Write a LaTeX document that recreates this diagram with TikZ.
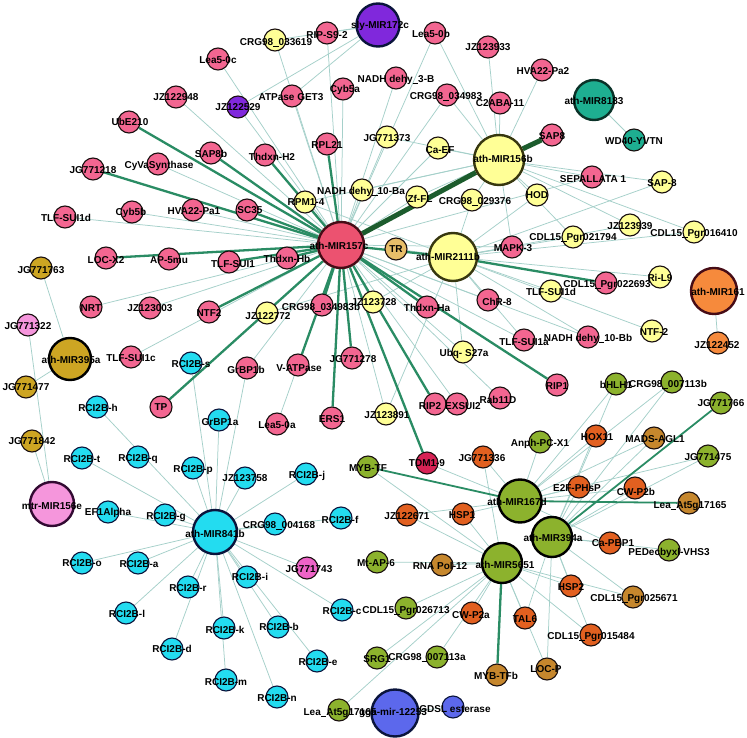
\documentclass[tikz,border=0pt]{standalone}
\usepackage{fontspec}
\setmainfont{Liberation Sans}
\definecolor{cpink}{RGB}{243,102,145}
\definecolor{cred}{RGB}{236,82,112}
\definecolor{cdred}{RGB}{70,12,22}
\definecolor{cyel}{RGB}{255,255,150}
\definecolor{cdyel}{RGB}{55,55,15}
\definecolor{cpurp}{RGB}{128,40,220}
\definecolor{cteal}{RGB}{30,175,145}
\definecolor{cdteal}{RGB}{10,50,40}
\definecolor{corng}{RGB}{246,138,60}
\definecolor{cgold}{RGB}{205,165,35}
\definecolor{clpink}{RGB}{245,150,220}
\definecolor{cdpurp}{RGB}{50,10,50}
\definecolor{cmag}{RGB}{238,100,200}
\definecolor{ccyan}{RGB}{35,220,240}
\definecolor{cdblue}{RGB}{10,20,60}
\definecolor{colive}{RGB}{140,178,45}
\definecolor{cored}{RGB}{226,96,32}
\definecolor{ctan}{RGB}{198,135,45}
\definecolor{ccrim}{RGB}{215,35,85}
\definecolor{ctr}{RGB}{232,190,105}
\definecolor{cblue}{RGB}{92,104,236}
\definecolor{ethin}{RGB}{165,208,202}
\definecolor{ethick}{RGB}{42,140,100}
\definecolor{edark}{RGB}{28,92,45}
\pgfdeclarelayer{edges}
\pgfdeclarelayer{labels}
\pgfsetlayers{edges,main,labels}
\newcommand\us{\rule[-1.6pt]{5.5pt}{0.95pt}}
\tikzset{
  sn/.style={circle, draw={rgb,255:red,25;green,15;blue,15}, line width=1.1pt, minimum size=22pt, inner sep=0pt},
  hub/.style={circle, line width=2.4pt, inner sep=0pt},
  pk/.style={sn, fill=cpink},
  yl/.style={sn, fill=cyel},
  pu/.style={sn, fill=cpurp},
  te/.style={sn, fill=cteal},
  og/.style={sn, fill=corng},
  gd/.style={sn, fill=cgold},
  lp/.style={sn, fill=clpink},
  mg/.style={sn, fill=cmag},
  cy/.style={sn, fill=ccyan, draw=cdblue},
  ol/.style={sn, fill=colive},
  orr/.style={sn, fill=cored},
  tn/.style={sn, fill=ctan},
  cr/.style={sn, fill=ccrim},
  trs/.style={sn, fill=ctr},
  bl/.style={sn, fill=cblue, draw=cdblue},
  lbl/.style={font=\bfseries\fontsize{10}{10}\selectfont, inner sep=0pt, text=black},
  ethinline/.style={draw=ethin, line width=0.75pt},
  ethickline/.style={draw=ethick, line width=2.3pt},
  emedline/.style={draw=ethick, line width=1.8pt},
  edarkline/.style={draw=edark, line width=5pt},
}
\newcommand\nd[7]{\node[#2] (#1) at (#3,#4) {};
  \begin{pgfonlayer}{labels}\node[lbl] (#1l) at (#6,#7) {#5};\end{pgfonlayer}}
\newcommand\ed[3]{\begin{pgfonlayer}{edges}\foreach \tgt in {#3} {\draw[#1] (#2) -- (\tgt);}\end{pgfonlayer}}
\begin{document}
\begin{tikzpicture}[x=1pt,y=-1pt]
\useasboundingbox (0,0) rectangle (747,738);
\begin{pgfonlayer}{edges}\fill[white] (0,0) rectangle (747,738);\end{pgfonlayer}
% hubs
\nd{m157c}{hub,fill=cred,draw=cdred,minimum size=46pt}{341}{245}{ath-MIR157c}{339}{246}
\nd{m156b}{hub,fill=cyel,draw=cdyel,minimum size=50pt}{499}{160}{ath-MIR156b}{503}{159}
\nd{m2111b}{hub,fill=cyel,draw=cdyel,minimum size=48pt}{453}{257}{ath-MIR2111b}{448}{257}
\nd{m172c}{hub,fill=cpurp,draw=cdblue,minimum size=43pt}{378}{25}{sly-MIR172c}{380}{26}
\nd{m8183}{hub,fill=cteal,draw=cdteal,minimum size=40pt}{594}{100}{ath-MIR8183}{594}{101}
\nd{m161}{hub,fill=corng,draw=cdred,minimum size=46pt}{714}{291}{ath-MIR161}{718}{292}
\nd{m395a}{hub,fill=cgold,draw=black,minimum size=42pt}{70}{359}{ath-MIR395a}{71}{360}
\nd{m156e}{hub,fill=clpink,draw=cdpurp,minimum size=44pt}{52}{504}{mtr-MIR156e}{52}{506}
\nd{m841b}{hub,fill=ccyan,draw=cdblue,minimum size=44pt}{215}{532}{ath-MIR841b}{215}{534}
\nd{m167d}{hub,fill=colive,draw=black,minimum size=43pt}{520}{501}{ath-MIR167d}{517}{502}
\nd{m394a}{hub,fill=colive,draw=black,minimum size=40pt}{552}{537}{ath-MIR394a}{553}{538}
\nd{m5651}{hub,fill=colive,draw=black,minimum size=40pt}{502}{563}{ath-MIR5651}{505}{565}
\nd{mgga}{hub,fill=cblue,draw=cdblue,minimum size=47pt}{395}{713}{gga-mir-12253}{393}{713}
% pink
\nd{lea5c}{pk}{218}{59}{Lea5-0c}{218}{60}
\nd{jz948}{pk}{176}{97}{JZ122948}{176}{97}
\nd{ube}{pk}{129}{122}{UbE210}{130}{122}
\nd{sap8b}{pk}{211}{153}{SAP8b}{211}{154}
\nd{cyva}{pk}{158}{164}{CyVaSynthase}{159}{166}
\nd{jg218}{pk}{93}{169}{JG771218}{93}{170}
\nd{ripS9}{pk}{327}{33}{RIP-S9-2}{327}{35}
\nd{lea5b}{pk}{435}{33}{Lea5-0b}{431}{34}
\nd{jz933}{pk}{488}{47}{JZ123933}{488}{47}
\nd{nadh3B}{pk}{396}{78}{NADH dehy\us3-B}{396}{80}
\nd{cyb5a}{pk}{343}{89}{Cyb5a}{345}{90}
\nd{atp}{pk}{292}{96}{ATPase GET3}{291}{97}
\nd{crg983}{pk}{447}{95}{CRG98\us034983}{446}{97}
\nd{c2aba}{pk}{500}{103}{C2ABA-11}{500}{103}
\nd{rpl21}{pk}{327}{144}{RPL21}{327}{145}
\nd{thH2}{pk}{265}{155}{Thdxn-H2}{272}{157}
\nd{hva2}{pk}{542}{70}{HVA22-Pa2}{543}{71}
\nd{sap8}{pk}{552}{135}{SAP8}{552}{136}
\nd{sep}{pk}{592}{177}{SEPALLATA 1}{593}{179}
\nd{tlf1d}{pk}{65}{217}{TLF-SUI1d}{66}{218}
\nd{cyb5b}{pk}{132}{212}{Cyb5b}{131}{213}
\nd{hva1}{pk}{193}{210}{HVA22-Pa1}{194}{211}
\nd{sc35}{pk}{247}{210}{SC35}{250}{210}
\nd{locx2}{pk}{106}{258}{LOC-X2}{106}{260}
\nd{ap5}{pk}{169}{259}{AP-5mu}{169}{260}
\nd{tlf1}{pk}{229}{262}{TLF-SUI1}{233}{264}
\nd{nrt}{pk}{91}{307}{NRT}{91}{308}
\nd{jz003}{pk}{150}{308}{JZ123003}{150}{308}
\nd{ntf2}{pk}{209}{312}{NTF2}{209}{313}
\nd{tlf1c}{pk}{131}{357}{TLF-SUI1c}{131}{358}
\nd{grbp1b}{pk}{247}{368}{GrBP1b}{246}{370}
\nd{thHb}{pk}{287}{258}{Thdxn-Hb}{287}{259}
\nd{crg983b}{pk}{322}{305}{CRG98\us034983b}{321}{308}
\nd{thHa}{pk}{427}{307}{Thdxn-Ha}{427}{308}
\nd{chr8}{pk}{488}{300}{ChR-8}{497}{302}
\nd{jg278}{pk}{352}{358}{JG771278}{353}{359}
\nd{vatp}{pk}{298}{365}{V-ATPase}{299}{368}
\nd{mapk3}{pk}{512}{247}{MAPK-3}{513}{248}
\nd{cdl693}{pk}{606}{283}{CDL15\us Pgr022693}{607}{285}
\nd{tlf1a}{pk}{524}{340}{TLF-SUI1a}{524}{342}
\nd{nadhBb}{pk}{588}{337}{NADH dehy\us10-Bb}{588}{339}
\nd{tp}{pk}{161}{407}{TP}{161}{407}
\nd{lea5a}{pk}{277}{424}{Lea5-0a}{277}{425}
\nd{ers1}{pk}{332}{418}{ERS1}{332}{419}
\nd{rabA}{pk}{435}{404}{RIP2}{430}{406}
\nd{rabB}{pk}{457}{404}{EXSUI2}{463}{406}
\nd{rab11d}{pk}{500}{398}{Rab11D}{498}{400}
\nd{rip1}{pk}{557}{385}{RIP1}{557}{386}
% yellow
\nd{crg619}{yl}{275}{40}{CRG98\us033619}{276}{43}
\nd{jg373}{yl}{387}{137}{JG771373}{387}{138}
\nd{caef}{yl}{438}{148}{Ca-EF}{440}{150}
\nd{sap8y}{yl}{662}{182}{SAP-8}{662}{183}
\nd{rpm}{yl}{305}{202}{RPM1-4}{306}{202}
\nd{nadhBa}{yl}{362}{190}{NADH dehy\us10-Ba}{361}{192}
\nd{zffl}{yl}{417}{197}{Zf-FL}{420}{199}
\nd{crg376}{yl}{472}{200}{CRG98\us029376}{475}{202}
\nd{hod}{yl}{537}{195}{HOD}{537}{195}
\nd{jz939}{yl}{630}{225}{JZ123939}{630}{226}
\nd{cdl794}{yl}{573}{237}{CDL15\us Pgr021794}{573}{238}
\nd{cdl410}{yl}{694}{232}{CDL15\us Pgr016410}{694}{234}
\nd{ril9}{yl}{660}{277}{Ri-L9}{660}{278}
\nd{tlf1dy}{yl}{551}{291}{TLF-SUI1d}{551}{292}
\nd{ntf2y}{yl}{652}{331}{NTF-2}{654}{332}
\nd{tr}{trs}{396}{249}{TR}{396}{249}
\nd{jz728}{yl}{373}{302}{JZ123728}{374}{302}
\nd{jz772}{yl}{267}{313}{JZ122772}{268}{316}
\nd{ubq}{yl}{463}{352}{Ubq- S27a}{464}{354}
\nd{jz891}{yl}{386}{414}{JZ123891}{387}{415}
% misc colours
\nd{wd40}{te}{634}{140}{WD40-YVTN}{634}{141}
\nd{jz529}{pu}{238}{107}{JZ122529}{238}{107}
\nd{jg763}{gd}{41}{268}{JG771763}{41}{270}
\nd{jg477}{gd}{26}{387}{JG771477}{26}{387}
\nd{jg842}{gd}{32}{441}{JG771842}{32}{441}
\nd{jg322}{lp}{28}{325}{JG771322}{28}{326}
\nd{jg743}{mg}{307}{568}{JG771743}{309}{569}
\nd{jz452}{og}{718}{343}{JZ122452}{717}{345}
% cyan
\nd{rciS}{cy}{191}{363}{RCI2B-s}{191}{364}
\nd{rciH}{cy}{97}{407}{RCI2B-h}{98}{408}
\nd{grbp1a}{cy}{219}{420}{GrBP1a}{220}{422}
\nd{rciT}{cy}{82}{458}{RCI2B-t}{82}{459}
\nd{rciQ}{cy}{138}{457}{RCI2B-q}{138}{459}
\nd{rciP}{cy}{193}{468}{RCI2B-p}{193}{470}
\nd{jz758}{cy}{245}{478}{JZ123758}{245}{478}
\nd{ef1}{cy}{108}{512}{EF1Alpha}{108}{513}
\nd{rciG}{cy}{165}{515}{RCI2B-g}{166}{517}
\nd{crg168}{cy}{275}{524}{CRG98\us004168}{279}{526}
\nd{rciJ}{cy}{306}{474}{RCI2B-j}{307}{476}
\nd{rciF}{cy}{341}{518}{RCI2B-f}{340}{520}
\nd{rciO}{cy}{82}{563}{RCI2B-o}{82}{563}
\nd{rciA}{cy}{138}{563}{RCI2B-a}{139}{564}
\nd{rciI}{cy}{247}{577}{RCI2B-i}{250}{577}
\nd{rciR}{cy}{188}{587}{RCI2B-r}{188}{588}
\nd{rciL}{cy}{126}{613}{RCI2B-l}{127}{614}
\nd{rciK}{cy}{224}{628}{RCI2B-k}{225}{630}
\nd{rciD}{cy}{172}{649}{RCI2B-d}{172}{649}
\nd{rciM}{cy}{226}{680}{RCI2B-m}{226}{682}
\nd{rciC}{cy}{342}{610}{RCI2B-c}{342}{611}
\nd{rciB}{cy}{278}{627}{RCI2B-b}{279}{627}
\nd{rciE}{cy}{317}{661}{RCI2B-e}{318}{662}
\nd{rciN}{cy}{277}{697}{RCI2B-n}{277}{698}
% olive
\nd{mybtf}{ol}{368}{467}{MYB-TF}{368}{468}
\nd{bhlh}{ol}{616}{384}{bHLH1}{616}{385}
\nd{crg13b}{ol}{672}{382}{CRG98\us007113b}{668}{385}
\nd{jg766}{ol}{721}{403}{JG771766}{721}{403}
\nd{anph}{ol}{540}{442}{Anph-PC-X1}{540}{444}
\nd{jg475}{ol}{708}{456}{JG771475}{708}{457}
\nd{pedec}{ol}{669}{550}{PEDecbyxl-VHS3}{669}{553}
\nd{mtap6}{ol}{377}{562}{Mt-AP-6}{376}{563}
\nd{cdl713}{ol}{406}{608}{CDL15\us Pgr026713}{406}{611}
\nd{srg1}{ol}{377}{658}{SRG1}{377}{659}
\nd{crg13a}{ol}{437}{657}{CRG98\us007113a}{427}{658}
\nd{leaOl}{ol}{339}{710}{Lea\us At5g17165}{340}{713}
% orange-red
\nd{tdm}{cr}{427}{463}{TDM1-9}{427}{463}
\nd{jg336}{orr}{483}{457}{JG771336}{482}{458}
\nd{jz671}{orr}{407}{515}{JZ122671}{407}{516}
\nd{hsp1}{orr}{463}{514}{HSP1}{462}{515}
\nd{hox11}{orr}{596}{436}{HOX11}{597}{437}
\nd{e2f}{orr}{579}{487}{E2F-PHsP}{577}{488}
\nd{cwp2b}{orr}{635}{488}{CW-P2b}{636}{492}
\nd{capbp}{orr}{610}{543}{Ca-PBP1}{613}{543}
\nd{cwp2a}{orr}{472}{613}{CW-P2a}{471}{615}
\nd{hsp2}{orr}{571}{586}{HSP2}{571}{587}
\nd{tal6}{orr}{525}{618}{TAL6}{525}{619}
\nd{cdl484}{orr}{591}{635}{CDL15\us Pgr015484}{591}{637}
% tan
\nd{mads}{tn}{654}{438}{MADS-AGL1}{655}{439}
\nd{leaTan}{tn}{689}{503}{Lea\us At5g17165}{690}{506}
\nd{rnapol}{tn}{442}{565}{RNA Pol-12}{440}{566}
\nd{cdl671}{tn}{633}{597}{CDL15\us Pgr025671}{634}{599}
\nd{locp}{tn}{547}{669}{LOC-P}{546}{669}
\nd{mybtfb}{tn}{497}{675}{MYB-TFb}{496}{676}
\nd{gdsl}{bl}{453}{707}{GDSL esterase}{455}{709}
% ---------- edges ----------
\ed{ethinline}{m157c}{lea5c,jz948,cyva,tlf1d,cyb5b,hva1,nrt,jz003,tlf1c,grbp1b,lea5a,jz728,chr8,mapk3,tlf1a,nadhBb,cyb5a,atp,ripS9,nadh3B,lea5b,crg983,jg373,caef,zffl,rpm,nadhBa,jz529,jz891,rab11d,ubq,crg619,sep,rabB}
\ed{ethinline}{m156b}{jz933,hva2,c2aba,crg983,caef,jg373,zffl,nadhBa,crg376,hod,sep,sap8y,cdl794,jz939,cdl410,mapk3,rpm,lea5b}
\ed{ethinline}{m2111b}{tr,cdl794,tlf1dy,ril9,ntf2y,jz728,ubq,jz891,cdl410,jz939,hod,crg376,jz772,mapk3,rpm,chr8,tlf1a,nadhBb,sap8y}
\ed{ethinline}{m172c}{jz529,crg619,atp,ripS9}
\ed{ethinline}{m8183}{wd40}
\ed{ethinline}{m161}{jz452}
\ed{ethinline}{m395a}{jg763,jg477}
\ed{ethinline}{m156e}{jg322,jg842}
\ed{ethinline}{m841b}{rciS,rciH,grbp1a,rciT,rciP,jz758,ef1,rciG,crg168,rciJ,rciF,rciO,rciA,rciI,rciR,rciL,rciK,rciD,rciM,rciC,rciB,rciE,rciN,jg743,grbp1b}
\ed{ethinline}{m167d}{anph,hox11,e2f,cwp2b,mads,jg336,hsp1,jz671,bhlh,crg13b,jg475,capbp,tdm}
\ed{ethinline}{m394a}{capbp,pedec,cwp2b,e2f,mads,jg475,hox11,hsp2,cdl671,tal6,cdl484,locp,crg13b,bhlh}
\ed{ethinline}{m5651}{rnapol,mtap6,cwp2a,hsp2,tal6,locp,cdl484,cdl671,crg13a,srg1,leaOl,cdl713,jz671,hsp1,jg336,mybtf}
\ed{ethinline}{mgga}{gdsl}
\ed{ethickline}{m157c}{ube,jg218,sap8b,thH2,rpl21,tlf1,locx2,ntf2,tp,vatp,ers1,jg278,tdm,rabA,rip1,thHa,thHb,crg983b,m2111b,sc35}
\ed{ethickline}{m2111b}{cdl693}
\ed{emedline}{m167d}{mybtf,leaTan}
\ed{emedline}{m394a}{jg766}
\ed{ethickline}{m5651}{mybtfb}
\ed{edarkline}{m157c}{m156b}
\ed{edarkline}{m156b}{sap8}
\end{tikzpicture}
\end{document}
